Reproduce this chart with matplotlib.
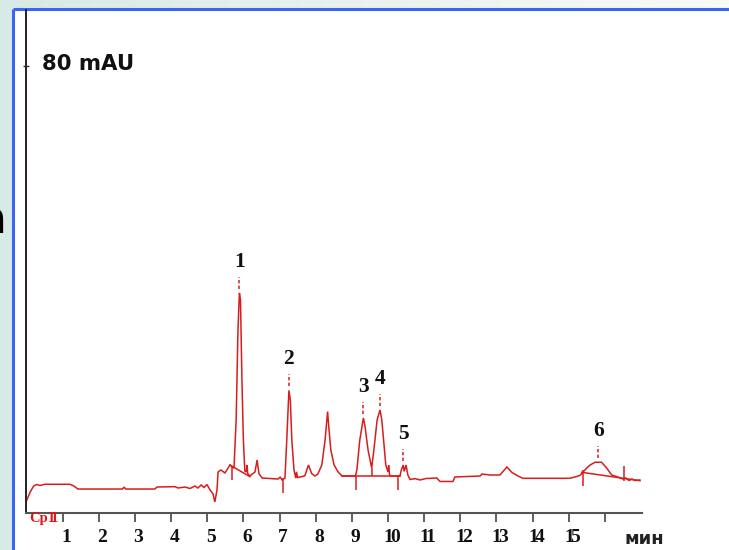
import matplotlib
matplotlib.use("Agg")
import matplotlib.pyplot as plt
import numpy as np
from matplotlib.transforms import offset_copy, blended_transform_factory
from matplotlib.patches import Rectangle

# ---------------- data ----------------
time_min = [0.00, 0.10, 0.20, 0.29, 0.37, 0.51, 1.20, 1.31, 1.42, 2.65, 2.70, 2.75,
            3.55, 3.61, 4.11, 4.19, 4.39, 4.52, 4.66, 4.74, 4.83, 4.91, 4.99, 5.08,
            5.16, 5.21, 5.27, 5.30, 5.38, 5.49, 5.63, 5.70, 5.74, 5.80, 5.85, 5.89,
            5.92, 5.96, 6.00, 6.04, 6.08, 6.10, 6.12, 6.18, 6.32, 6.38, 6.43, 6.52,
            6.74, 6.96, 7.02, 7.07, 7.15, 7.20, 7.26, 7.30, 7.34, 7.40, 7.45, 7.47,
            7.50, 7.57, 7.70, 7.80, 7.89, 7.98, 8.06, 8.17, 8.26, 8.33, 8.37, 8.42,
            8.51, 8.62, 8.73, 9.10, 9.14, 9.22, 9.32, 9.36, 9.45, 9.55, 9.61, 9.70,
            9.78, 9.83, 9.89, 9.94, 10.00, 10.02, 10.04, 10.06, 10.33, 10.37, 10.42, 10.45,
            10.50, 10.55, 10.61, 10.75, 10.89, 11.05, 11.35, 11.44, 11.80, 11.85, 12.55, 12.60,
            12.82, 13.10, 13.29, 13.43, 13.60, 13.73, 15.03, 15.17, 15.31, 15.50, 15.59, 15.73,
            15.91, 16.05, 16.19, 16.36, 16.50, 16.58, 16.67, 16.75, 16.83, 16.97]
signal_mau = [2.15, 3.70, 4.80, 5.05, 4.87, 5.09, 5.09, 4.78, 4.24, 4.24, 4.55, 4.24,
              4.24, 4.60, 4.66, 4.42, 4.60, 4.33, 4.78, 4.42, 4.96, 4.51, 5.05, 4.07,
              3.35, 1.92, 4.07, 7.29, 7.65, 7.11, 8.54, 8.18, 7.97, 16.6, 32.7, 39.35,
              38.1, 23.8, 13.0, 7.47, 7.30, 8.54, 7.00, 6.57, 7.29, 9.44, 7.00, 6.20,
              6.12, 6.03, 6.39, 5.86, 6.20, 13.0, 21.9, 20.1, 13.0, 7.65, 6.20, 7.30,
              6.30, 6.39, 6.60, 8.54, 7.00, 6.57, 6.93, 8.54, 13.0, 18.1, 14.8, 11.2,
              8.54, 7.29, 6.57, 6.57, 7.65, 13.0, 16.96, 15.7, 11.2, 8.00, 11.2, 16.6,
              18.4, 16.6, 12.1, 8.54, 7.29, 8.50, 7.00, 6.57, 6.57, 7.65, 8.54, 7.40,
              8.54, 6.75, 5.95, 6.10, 5.86, 6.12, 6.21, 5.59, 5.59, 6.39, 6.57, 6.93,
              6.75, 6.75, 8.18, 7.20, 6.57, 6.16, 6.16, 6.39, 6.66, 8.00, 8.54, 9.03,
              9.03, 8.00, 6.75, 6.39, 6.03, 6.21, 5.77, 6.03, 5.77, 5.86]

# integration event marks (vertical strokes)
event_t = [5.69, 7.10, 9.11, 9.55, 10.28, 15.40, 16.53]
event_lo = [5.86, 3.50, 4.07, 6.57, 4.07, 4.78, 5.73]
event_hi = [8.20, 6.20, 6.57, 8.00, 6.57, 7.65, 8.42]

# integration baselines
base_t0 = [5.63, 8.73, 15.36]
base_v0 = [8.54, 6.57, 7.23]
base_t1 = [6.18, 10.33, 16.97]
base_v1 = [6.45, 6.57, 5.73]

# numbered peaks
peak_names = ["1", "2", "3", "4", "5", "6"]
peak_time = [5.89, 7.26, 9.32, 9.78, 10.42, 15.82]
peak_height = [39.35, 21.9, 16.96, 18.4, 8.54, 9.03]

tick_minutes = list(range(1, 17))
tick_labels = ["1", "2", "3", "4", "5", "6", "7", "8", "9", "10",
               "11", "12", "13", "14", "15", ""]
y_tick = 80
y_tick_label = "80 mAU"
x_unit = "мин"
channel_label = "Cp1"

# ---------------- figure ----------------
W, H = 729, 550
fig = plt.figure(figsize=(W / 100, H / 100), dpi=100)


def fx(px):
    return px / W


def fy(py):
    return 1 - py / H


RED = "#d91c1c"
LW = 1.1

# slide background
bg = fig.add_axes([0, 0, 1, 1])
bg.set_axis_off()
g = np.linspace(0, 1, 256)
c0 = np.array([216, 234, 229]) / 255
c1 = np.array([250, 250, 247]) / 255
img = (c0[None, :] * (1 - g[:, None]) + c1[None, :] * g[:, None])[None, :, :]
bg.imshow(img, aspect="auto", extent=[0, 1, 0, 1])
bg.set_xlim(0, 1)
bg.set_ylim(0, 1)
bg.text(fx(7), fy(233), "а", ha="right", va="baseline", fontsize=34,
        fontweight="bold", color="black", family="DejaVu Sans")
bg.add_patch(Rectangle((fx(13), 0), 1 - fx(13), fy(9), facecolor="white",
                       edgecolor="none", zorder=2))
bg.plot([fx(13), fx(13)], [0, fy(9)], color="#3a66f2", lw=2.2, zorder=3,
        solid_capstyle="butt")
bg.plot([fx(13), 1], [fy(9), fy(9)], color="#3a66f2", lw=2.2, zorder=3,
        solid_capstyle="butt")

# chart axes
ax = fig.add_axes([fx(25.5), fy(512.7), fx(641.7) - fx(25.5), fy(10) - fy(512.7)])
ax.patch.set_alpha(0)
ax.set_xlim(-0.028, 17.02)
ax.set_ylim(0, 90.0)
for s in ("top", "right"):
    ax.spines[s].set_visible(False)
ax.spines["left"].set_color("#222222")
ax.spines["left"].set_linewidth(1.4)
ax.spines["bottom"].set_color("#555555")
ax.spines["bottom"].set_linewidth(1.5)

ax.set_xticks(tick_minutes)
ax.tick_params(axis="x", direction="out", length=6.5, width=1.2, colors="#444444",
               labelbottom=False)
ax.set_yticks([y_tick])
ax.tick_params(axis="y", direction="inout", length=4, width=1.0, colors="#333333",
               labelleft=False)

# trace
ax.plot(time_min, signal_mau, color=RED, lw=LW, solid_joinstyle="miter")
ax.vlines(event_t, event_lo, event_hi, color=RED, lw=LW)
for a, b, c, d in zip(base_t0, base_v0, base_t1, base_v1):
    ax.plot([a, c], [b, d], color=RED, lw=LW)

# peak markers and numbers
for name, t, h in zip(peak_names, peak_time, peak_height):
    ax.vlines(t, h + 0.75, h + 2.9, color=RED, lw=1.1, linestyles=(0, (2.2, 1.5)))
    tr = offset_copy(ax.transData, fig=fig, x=0, y=26, units="dots")
    ax.text(t, h, name, transform=tr, ha="center", va="baseline",
            family="Liberation Serif", fontweight="bold", fontsize=15.5, color="#111111")

# x tick labels (serif bold, slightly right of ticks; two-digit numbers squeezed)
xtr = blended_transform_factory(ax.transData, ax.transAxes)
for t, lab in zip(tick_minutes, tick_labels):
    if not lab:
        continue
    if len(lab) == 1:
        parts = [(lab, 3.5)]
    else:
        parts = [(lab[0], 0.3), (lab[1], 6.7)]
    for ch, dx in parts:
        tr = offset_copy(xtr, fig=fig, x=dx, y=-29, units="dots")
        ax.text(t, 0, ch, transform=tr, ha="center", va="baseline",
                family="Liberation Serif", fontweight="bold", fontsize=14,
                color="#111111")

# y tick label
ytr = offset_copy(blended_transform_factory(ax.transAxes, ax.transData), fig=fig,
                  x=17, y=-4.3, units="dots")
ax.text(0, y_tick, y_tick_label, transform=ytr, ha="left", va="baseline",
        family="DejaVu Sans", fontweight="bold", fontsize=15.3, color="#111111")

# unit label
fig.text(fx(644), fy(544), x_unit, ha="center", va="baseline", family="DejaVu Sans",
         fontweight="bold", fontsize=13, color="#222222")

# channel label (red, overlapping)
fig.text(fx(29), fy(522), channel_label, ha="left", va="baseline",
         family="Liberation Serif", fontweight="bold", fontsize=10.5, color="#e01515")
fig.text(fx(51), fy(522), "1", ha="left", va="baseline",
         family="Liberation Serif", fontweight="bold", fontsize=10.5, color="#e01515")

fig.savefig("out.png", dpi=100)
